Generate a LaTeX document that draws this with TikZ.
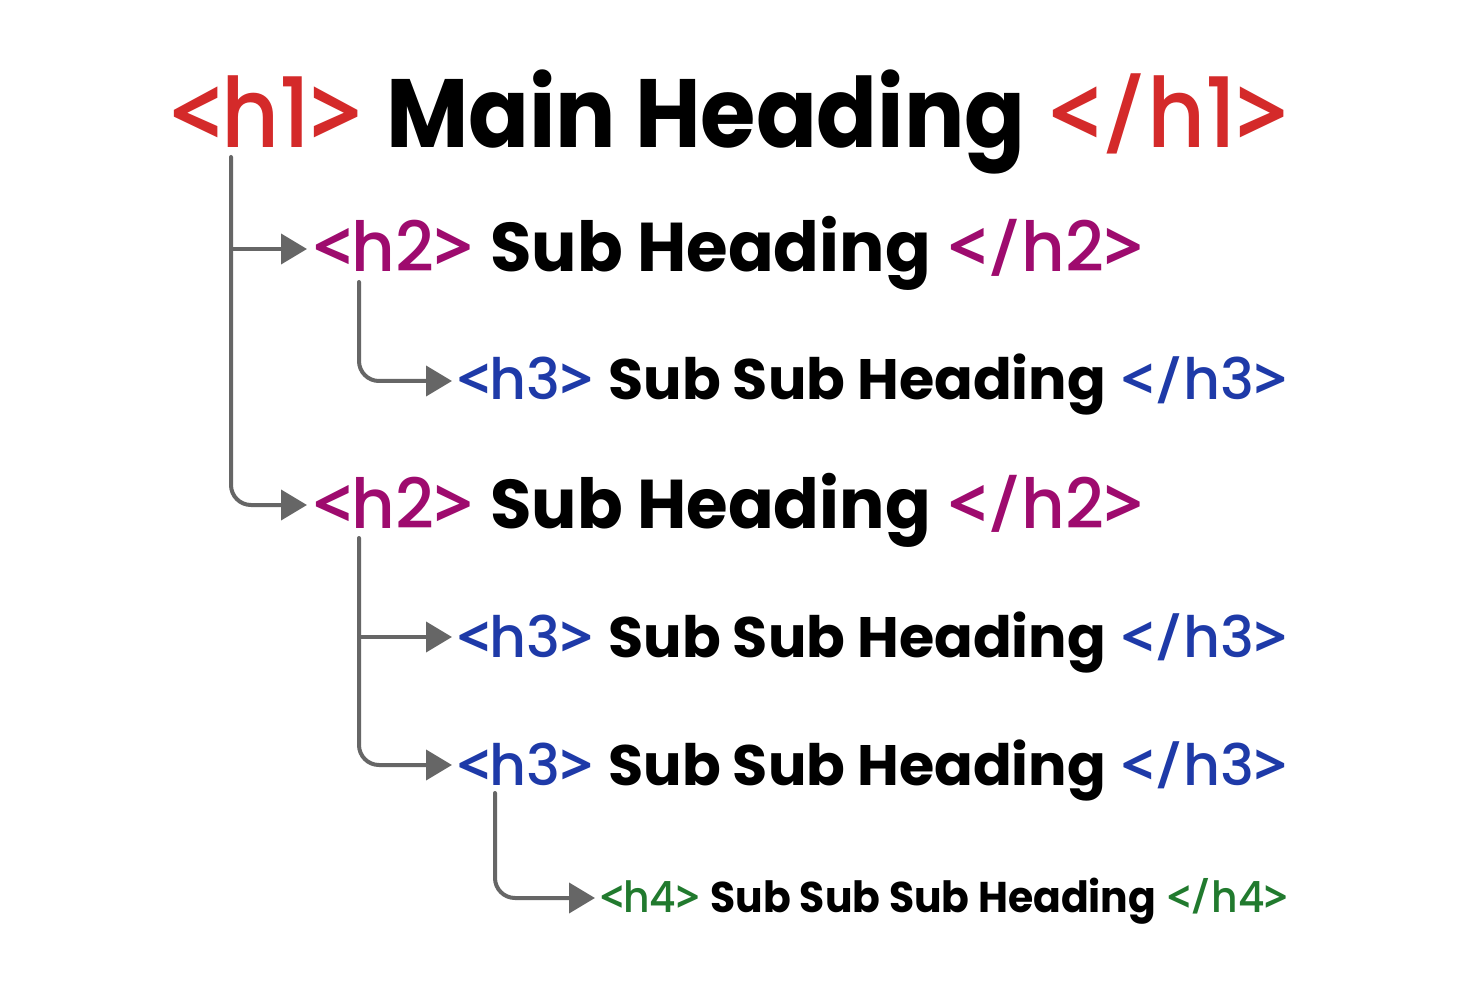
\documentclass[tikz,border=0pt]{standalone}
\usepackage{fontspec}
\setmainfont{Poppins}[BoldFont=* Bold]
\newfontfamily\tagfont{Poppins}[UprightFont=* Medium]
\newfontfamily\angfont{Open Sans}[UprightFont=* Bold]
\usetikzlibrary{arrows.meta}
\definecolor{cRed}{HTML}{D42A2A}
\definecolor{cPurple}{HTML}{9E0B6E}
\definecolor{cBlue}{HTML}{1E3AA8}
\definecolor{cGreen}{HTML}{217A2E}
\definecolor{cGray}{HTML}{666666}
\newcommand\tagslash{\raisebox{0.07em}{\scalebox{1}[0.74]{/}}}
\newcommand\opentag[2]{{\color{#1}{\angfont<}{\tagfont #2}{\angfont>}}}
\newcommand\closetag[2]{{\color{#1}{\angfont<}{\tagfont\tagslash#2}{\angfont>}}}
\newcommand\hrow[5]{\resizebox{#1}{\height}{\fontsize{#5}{#5}\selectfont\opentag{#2}{#3}\ {\bfseries #4}\ \closetag{#2}{#3}}}
\tikzset{
  conn/.style={draw=cGray, line width=4pt, rounded corners=20pt, line cap=round, -{Triangle[length=26pt,width=30pt]}},
  hrownode/.style={anchor=base west, inner sep=0pt, outer sep=0pt}
}
\begin{document}
\begin{tikzpicture}[x=1pt,y=-1pt]
\useasboundingbox[fill=white] (0,0) rectangle (1460,1000);
\node[hrownode] (h1)  at (170,148) {\hrow{1118pt}{cRed}{h1}{Main Heading}{97}};
\node[hrownode] (h2a) at (313,272) {\hrow{830pt}{cPurple}{h2}{Sub Heading}{69}};
\node[hrownode] (h3a) at (457,400) {\hrow{830pt}{cBlue}{h3}{Sub Sub Heading}{57}};
\node[hrownode] (h2b) at (313,528) {\hrow{830pt}{cPurple}{h2}{Sub Heading}{69}};
\node[hrownode] (h3b) at (457,657) {\hrow{830pt}{cBlue}{h3}{Sub Sub Heading}{57}};
\node[hrownode] (h3c) at (457,785) {\hrow{830pt}{cBlue}{h3}{Sub Sub Heading}{57}};
\node[hrownode] (h4)  at (600,912) {\hrow{688pt}{cGreen}{h4}{Sub Sub Sub Heading}{43}};
% connector anchors
\coordinate (v1)  at (231,157);
\coordinate (j1)  at (231,249);
\coordinate (e2a) at (307,249);
\coordinate (e2b) at (307,505);
\coordinate (v2a) at (359,282);
\coordinate (e3a) at (452,381);
\coordinate (v2b) at (359,538);
\coordinate (j2)  at (359,637);
\coordinate (e3b) at (452,637);
\coordinate (e3c) at (452,765);
\coordinate (v3)  at (495,793);
\coordinate (e4)  at (595,898);
\draw[conn] (v1) |- (e2b);
\draw[conn] (j1) -- (e2a);
\draw[conn] (v2a) |- (e3a);
\draw[conn] (v2b) |- (e3c);
\draw[conn] (j2) -- (e3b);
\draw[conn] (v3) |- (e4);
\end{tikzpicture}
\end{document}
